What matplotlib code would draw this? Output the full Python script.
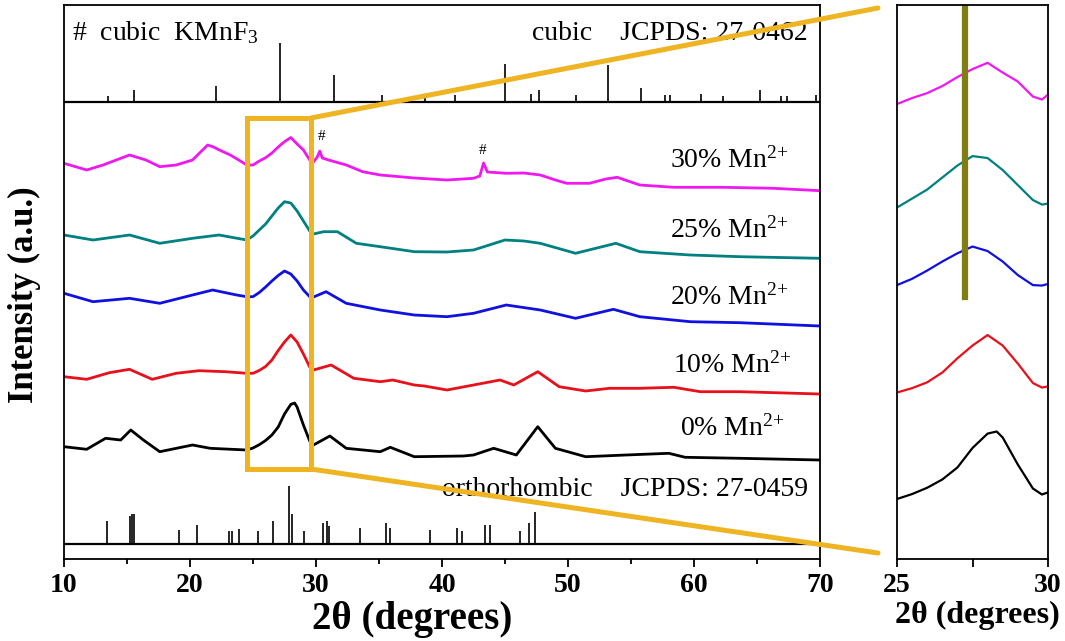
import matplotlib.pyplot as plt
from matplotlib.patches import Rectangle, ConnectionPatch
from matplotlib.ticker import MultipleLocator

plt.rcParams['font.family'] = ['Liberation Serif', 'DejaVu Serif']
plt.rcParams['mathtext.fontset'] = 'custom'
plt.rcParams['mathtext.rm'] = 'Liberation Serif'
plt.rcParams['mathtext.it'] = 'Liberation Serif:italic'
plt.rcParams['mathtext.bf'] = 'Liberation Serif:bold'

# XRD patterns, stacked (offset intensities, a.u.)
x_0 = [10.0, 11.8, 13.3, 14.5, 15.3, 16.3, 17.6, 20.2, 21.6, 24.5, 25.0, 25.5, 26.0,
       26.5, 27.0, 27.5, 28.0, 28.3, 28.5, 29.0, 29.5, 29.8, 31.1, 32.4, 35.1, 35.9,
       37.8, 41.7, 42.5, 44.1, 45.9, 47.6, 49.0, 51.4, 54.6, 58.0, 59.3, 63.65, 70.0]
y_0 = [112.3, 109.7, 120.7, 119, 129, 119, 107.3, 114, 110.7, 109, 111, 114.3, 118.5,
       124, 132, 145, 154.6, 156, 152, 134, 118, 114, 123, 110.7, 107.3, 111.7,
       102.3, 103, 104, 110.7, 104, 132.3, 110.7, 102.3, 104, 105.7, 101.7, 100.7, 99]

x_10 = [10.0, 11.8, 13.6, 15.2, 17.0, 18.9, 20.7, 22.8, 24.5, 25.0, 25.5, 26.0, 26.5,
        27.0, 27.5, 28.0, 28.5, 29.0, 29.5, 29.8, 31.2, 33.0, 35.1, 36.1, 37.8, 38.6,
        40.4, 42.5, 44.6, 45.7, 47.6, 49.3, 51.4, 53.3, 55.7, 58.4, 60.5, 63.65, 70.0]
y_10 = [182.3, 179.7, 186.3, 189.7, 179.7, 185.7, 188.3, 187.3, 185.7, 185.7, 188.6, 192.5, 199,
        208.5, 217, 224, 217, 205, 192, 189, 194, 180.7, 177.3, 179, 174, 173,
        169, 174, 179, 174, 187.3, 172.3, 168, 170.7, 170.7, 171.7, 167.3, 167.3, 165]

x_20 = [10.0, 12.3, 15.2, 17.6, 20.2, 21.8, 23.7, 24.5, 25.0, 25.5, 26.0, 26.5, 27.0,
        27.5, 28.0, 28.5, 29.0, 29.5, 29.8, 30.8, 32.4, 35.1, 37.8, 40.4, 42.5, 45.1,
        47.8, 50.6, 53.6, 55.7, 59.7, 63.65, 70.0]
y_20 = [265.7, 257.3, 260.7, 255.7, 264, 269, 264, 262.3, 262.3, 266.5, 272, 278, 283.5,
        288, 285, 278, 269, 262.3, 262, 267.3, 255.7, 249, 244, 242.3, 245.7, 254,
        249, 240.7, 249.7, 242.3, 237.3, 236.3, 233]

x_25 = [10.0, 12.3, 15.2, 17.6, 20.2, 22.3, 24.5, 25.0, 25.5, 26.0, 26.5, 27.0, 27.5,
        28.0, 28.5, 29.0, 29.5, 29.8, 30.6, 31.7, 33.2, 35.1, 37.8, 40.4, 42.5, 45.0,
        46.5, 47.8, 50.6, 53.8, 55.7, 59.7, 63.65, 70.0]
y_25 = [324, 319, 324, 315.7, 320.7, 324, 319, 323, 329, 335, 343, 351, 357.3,
        356, 348, 338, 328, 325, 327.3, 327.3, 315.7, 312.3, 307.3, 307, 309, 319,
        318, 315.7, 305.7, 315.7, 307.3, 304, 302.3, 300.7]

x_30 = [10.0, 11.8, 13.1, 15.2, 16.5, 17.6, 18.9, 20.2, 21.0, 21.4, 21.8, 22.5, 23.2,
        24.0, 24.5, 25.0, 25.5, 26.0, 26.5, 27.0, 27.5, 28.0, 28.5, 29.0, 29.5, 29.8,
        30.1, 30.3, 30.5, 31.0, 32.4, 33.7, 35.1, 37.8, 40.4, 42.5, 43.0, 43.3, 43.6,
        45.1, 46.5, 47.8, 49.0, 49.9, 51.7, 53.0, 53.9, 55.0, 55.7, 58.4, 62.3, 66.3, 70.0]
y_30 = [395.7, 389, 394, 404, 399, 392.3, 394, 399, 409, 414, 412.3, 408, 404,
        398, 394, 394, 398, 401.3, 406, 412, 417.3, 421.5, 415, 409, 399, 397,
        402, 408, 401, 399, 394, 387.3, 384, 381, 379, 380.7, 383, 396, 387,
        385.7, 386, 384, 379, 375.7, 375.7, 380, 381.7, 377, 374, 371.7, 371.7, 370.7, 368.3]

samples = ['0% Mn$^{2{+}}$', '10% Mn$^{2{+}}$', '20% Mn$^{2{+}}$',
           '25% Mn$^{2{+}}$', '30% Mn$^{2{+}}$']
colors = ['black', '#e8101a', '#1010e0', '#008080', '#f018f0']
xs = [x_0, x_10, x_20, x_25, x_30]
ys = [y_0, y_10, y_20, y_25, y_30]
label_x = [58.9, 58.3, 58.1, 58.1, 58.1]
label_y = [131, 194, 262, 329, 399]
zoom_shift = [9, 5.3, 0.3, -8.7, -10.7]

# reference patterns
cubic_pos = [13.5, 15.54, 22.1, 27.14, 31.4, 35.2, 38.65, 41.0, 44.98, 47.06, 47.67,
             50.6, 53.14, 55.76, 57.67, 58.1, 60.56, 62.3, 65.2, 66.9, 67.36, 69.68]
cubic_int = [6, 12, 16, 59, 27, 7, 8, 7, 38, 8, 12, 7, 37, 14, 7, 7, 8, 6, 12, 6, 6, 7]
ortho_pos = [13.41, 15.24, 15.42, 15.55, 19.13, 20.53, 23.1, 23.3, 23.9, 25.37, 26.56,
             27.83, 28.1, 29.02, 30.58, 30.85, 31.06, 33.5, 35.53, 35.87, 39.05, 41.2,
             41.6, 43.44, 43.8, 46.19, 46.93, 47.4]
ortho_int = [23, 28, 30, 30, 14, 19, 13, 13, 15, 13, 23, 58, 30, 13, 21, 23, 18, 16,
             21, 16, 14, 16, 13, 19, 19, 13, 21, 32]
cubic_base = 457
ortho_base = 15

gold = '#eeb422'
olive = '#7f7d14'

fig = plt.figure(figsize=(10.65, 6.41), dpi=100)
ax = fig.add_axes([64 / 1065, 82 / 641, 756 / 1065, 554 / 641])
ax2 = fig.add_axes([897 / 1065, 82 / 641, 151 / 1065, 554 / 641])

for x, y, c in zip(xs, ys, colors):
    ax.plot(x, y, color=c, lw=2.0)

ax.axhline(cubic_base, color='black', lw=1.6)
ax.vlines(cubic_pos, cubic_base, [cubic_base + h for h in cubic_int], color='black', lw=1.2)
ax.axhline(ortho_base, color='black', lw=1.6)
ax.vlines(ortho_pos, ortho_base, [ortho_base + h for h in ortho_int], color='black', lw=1.2)

ax.text(0.0106, 526, '#  cubic  KMnF$_{3}$', transform=ax.get_yaxis_transform(),
        fontsize=20, va='center', ha='left')
ax.text(0.984, 526, 'cubic    JCPDS: 27-0462', transform=ax.get_yaxis_transform(),
        fontsize=20, va='center', ha='right')
ax.text(0.984, 69, 'orthorhombic    JCPDS: 27-0459', transform=ax.get_yaxis_transform(),
        fontsize=20, va='center', ha='right')
ax.text(30.45, 422, '#', fontsize=11, ha='center', va='center')
ax.text(43.2, 409, '#', fontsize=11, ha='center', va='center')

for s, lx, ly in zip(samples, label_x, label_y):
    ax.text(lx, ly, s, fontsize=20, va='center', ha='left')

ax.set_xlim(10, 70)
ax.set_ylim(0, 554)
ax.set_yticks([])
ax.xaxis.set_major_locator(MultipleLocator(10))
ax.xaxis.set_minor_locator(MultipleLocator(5))
ax.tick_params(axis='x', which='major', direction='out', length=6, width=1.3, pad=4,
               labelsize=20)
ax.tick_params(axis='x', which='minor', direction='out', length=3.5, width=1.3)
for lab in ax.get_xticklabels():
    lab.set_fontweight('bold')
ax.set_xlabel('2θ (degrees)', fontsize=28, fontweight='bold')
ax.xaxis.set_label_coords(0.46, -0.075)
ax.set_ylabel('Intensity (a.u.)', fontsize=25, fontweight='bold')
ax.yaxis.set_label_coords(-0.031, 0.4765)

# zoomed view of the main peak
for x, y, c, sh in zip(xs, ys, colors, zoom_shift):
    ax2.plot(x, [v + sh for v in y], color=c, lw=1.6)
ax2.axvline(27.25, 0.473, 1.0, color=olive, lw=4.5)
ax2.set_xlim(25, 30)
ax2.set_ylim(80, 80 + 554 / 1.5)
ax2.set_yticks([])
ax2.set_xticks([25, 30])
ax2.xaxis.set_minor_locator(MultipleLocator(2.5))
ax2.tick_params(axis='x', which='major', direction='out', length=6, width=1.3, pad=4,
                labelsize=20)
ax2.tick_params(axis='x', which='minor', direction='out', length=6, width=1.3)
for lab in ax2.get_xticklabels():
    lab.set_fontweight('bold')
ax2.set_xlabel('2θ (degrees)', fontsize=23, fontweight='bold')
ax2.xaxis.set_label_coords(0.53, -0.075)

for a in (ax, ax2):
    for sp in a.spines.values():
        sp.set_linewidth(1.3)

# zoom window and guide lines
ax.add_patch(Rectangle((24.5, 90), 5.1, 351, fill=False, edgecolor=gold, lw=3.6, zorder=5))
for ya, yb in [(441, 0.9946), (90, 0.0108)]:
    con = ConnectionPatch(xyA=(29.6, ya), coordsA='data', axesA=ax,
                          xyB=(-0.126, yb), coordsB='axes fraction', axesB=ax2,
                          color=gold, lw=3.6, zorder=6)
    fig.add_artist(con)

fig.savefig('out.png', dpi=100)
